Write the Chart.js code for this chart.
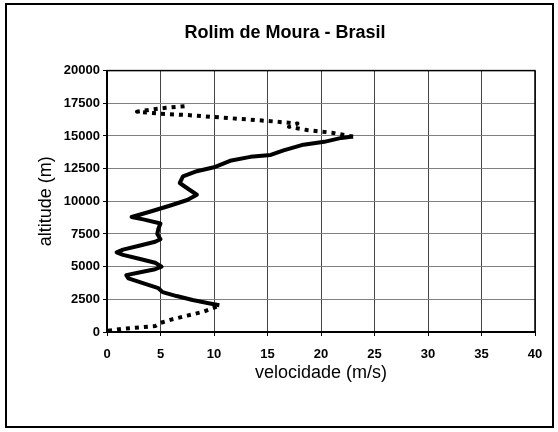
<!DOCTYPE html>
<html>
<head>
<meta charset="utf-8">
<script src="https://cdn.jsdelivr.net/npm/chart.js@4"></script>
<style>
  body { margin: 0; background: #fff; }
  #wrap { width: 558px; height: 432px; }
</style>
</head>
<body>
<div id="wrap"><canvas id="perfil"></canvas></div>
<script>
// perfil vertical do vento - Rolim de Moura
var velocidade = [0.1, 1.5, 3, 4.5, 5, 6, 7.5, 9, 10, 10.5, 9.5, 8, 6.5, 5.2, 4.8, 3.5, 2, 1.8, 3, 4.5,
  5.1, 4.5, 3, 1.5, 0.9, 1.5, 3, 4.5, 5, 4.7, 4.8, 5, 3.5, 2.3, 4, 6, 7.5, 8.4, 7.5, 6.8,
  7.1, 8.4, 10, 11.5, 13.4, 15.3, 16.5, 18.2, 20.3, 21.9, 23, 21, 18.7, 17, 17.8, 15, 12.5, 10, 7.5, 5,
  2.8, 4, 5.5, 7.5];
var altitude = [100, 250, 350, 450, 700, 950, 1250, 1550, 1850, 2050, 2200, 2450, 2750, 3050, 3350, 3700, 4100, 4350, 4550, 4800,
  5000, 5300, 5600, 5900, 6100, 6300, 6600, 6900, 7100, 7500, 7900, 8300, 8600, 8800, 9200, 9700, 10100, 10500, 11000, 11400,
  11900, 12300, 12600, 13100, 13400, 13550, 13900, 14300, 14550, 14850, 14950, 15250, 15450, 15700, 15950, 16150, 16300, 16450, 16600, 16700,
  16850, 17000, 17150, 17300];

var pontos = [];
for (var i = 0; i < velocidade.length; i++) {
  pontos.push({ x: velocidade[i], y: altitude[i] });
}

// trechos com poucos dados aparecem tracejados
function tracejado(ctx) {
  var a = ctx.p0.parsed.y, b = ctx.p1.parsed.y;
  if (a < 2000 || b > 15000) return [4, 5];
  return undefined;
}

var moldura = {
  id: 'moldura',
  afterDraw: function(chart) {
    var c = chart.ctx, a = chart.chartArea;
    c.save();
    c.strokeStyle = '#000';
    c.lineWidth = 1.5;
    c.strokeRect(a.left, a.top, a.right - a.left, a.bottom - a.top);
    c.lineWidth = 2;
    c.strokeRect(6, 4, 547, 423);
    c.restore();
  }
};

var fonte = 'Liberation Sans, Arial, sans-serif';

new Chart(document.getElementById('perfil'), {
  type: 'scatter',
  data: {
    datasets: [{
      data: pontos,
      showLine: true,
      borderColor: '#000',
      backgroundColor: '#000',
      borderWidth: 4,
      borderJoinStyle: 'round',
      pointRadius: 0,
      segment: { borderDash: tracejado }
    }]
  },
  options: {
    responsive: true,
    maintainAspectRatio: false,
    animation: false,
    layout: { padding: { left: 35, right: 23, top: 0, bottom: 48 } },
    plugins: {
      legend: { display: false },
      tooltip: { enabled: false },
      title: {
        display: true,
        text: 'Rolim de Moura - Brasil',
        color: '#000',
        font: { family: fonte, size: 18, weight: 'bold' },
        padding: { top: 22, bottom: 27 }
      }
    },
    scales: {
      x: {
        type: 'linear',
        min: 0, max: 40,
        afterFit: function(s) { s.height = 52; },
        grid: { color: '#444', tickColor: '#000', tickLength: 4 },
        border: { color: '#000', width: 2 },
        ticks: { stepSize: 5, color: '#000', padding: 11, font: { family: fonte, size: 13, weight: 'bold' } },
        title: { display: true, text: 'velocidade (m/s)', color: '#000', padding: 0, font: { family: fonte, size: 18 } }
      },
      y: {
        type: 'linear',
        min: 0, max: 20000,
        afterFit: function(s) { s.width = 72; },
        grid: { color: '#808080', tickColor: '#000', tickLength: 4 },
        border: { color: '#000', width: 2 },
        ticks: {
          stepSize: 2500, color: '#000', padding: 3,
          font: { family: fonte, size: 13, weight: 'bold' },
          callback: function(v) { return String(v); }
        },
        title: { display: true, text: 'altitude (m)', color: '#000', padding: 0, font: { family: fonte, size: 18 } }
      }
    }
  },
  plugins: [moldura]
});
</script>
</body>
</html>
